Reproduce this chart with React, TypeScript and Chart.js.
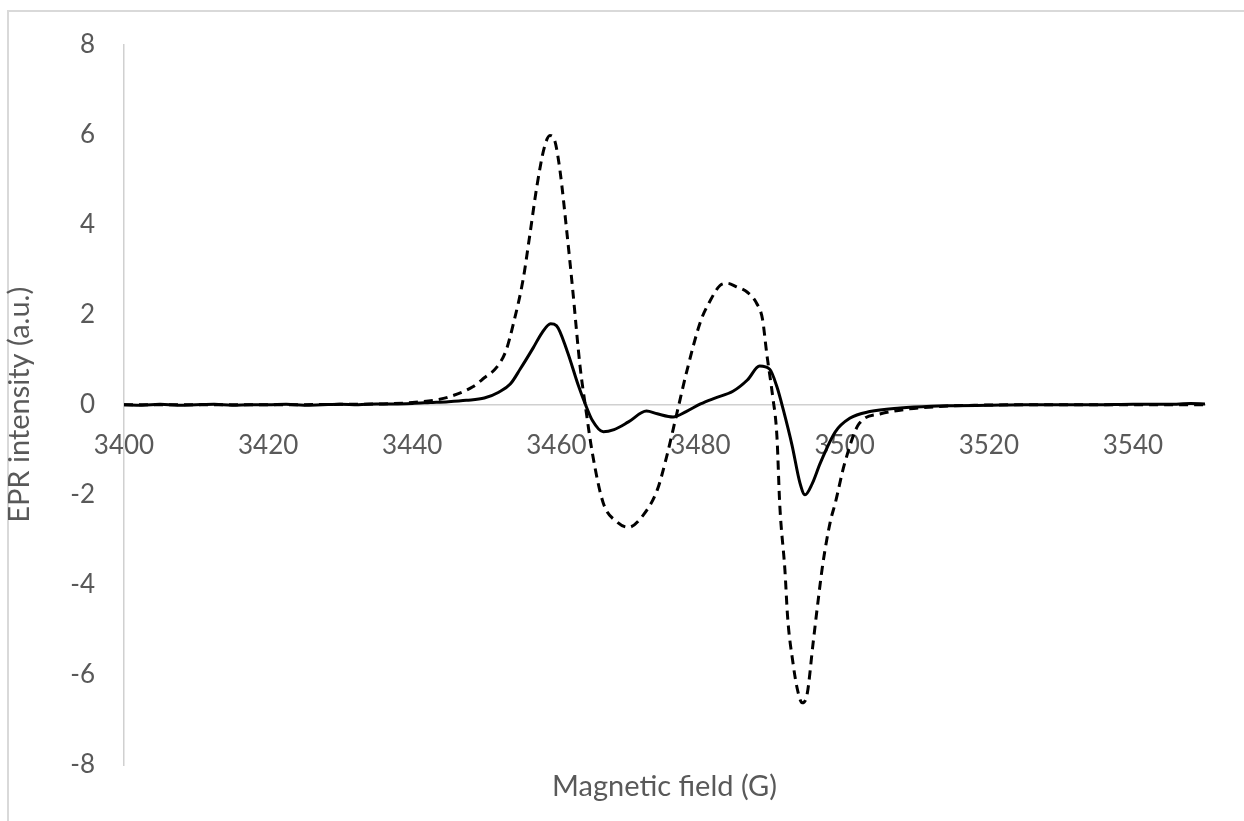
import React, { useEffect, useRef } from "react";
import { Chart, registerables } from "chart.js";

Chart.register(...registerables);

// Magnetic field (G) and EPR intensity (a.u.)
const solidField = [
  3400, 3402.5, 3405, 3407.5, 3410, 3412.5, 3415, 3417.5, 3420, 3422.5, 3425, 3427.5, 3430, 3432.5,
  3435, 3437.5, 3440, 3442.5, 3445, 3447.5, 3450, 3452, 3453.6, 3455, 3456.8, 3458, 3459.2, 3460,
  3461.5, 3463, 3464, 3465, 3466.5, 3468, 3470, 3472.5, 3474, 3476.2, 3478, 3480, 3482, 3484.5,
  3486.5, 3488.2, 3489.6, 3490.6, 3491.5, 3492.7, 3493.8, 3494.5, 3495.5, 3496.6, 3498.7, 3500.7,
  3503.5, 3507.7, 3512, 3515, 3520, 3525, 3530, 3535, 3540, 3545, 3548, 3550,
];
const solidIntensity = [
  0.0, -0.01, 0.01, -0.01, 0.0, 0.01, -0.01, 0.0, 0.0, 0.01, -0.01, 0.0, 0.01, 0.0,
  0.02, 0.02, 0.03, 0.05, 0.07, 0.1, 0.15, 0.28, 0.46, 0.8, 1.27, 1.6, 1.8, 1.76,
  1.19, 0.45, 0.02, -0.35, -0.6, -0.55, -0.38, -0.14, -0.2, -0.27, -0.15, 0.02, 0.15, 0.3,
  0.55, 0.86, 0.79, 0.4, -0.12, -0.9, -1.74, -2.0, -1.75, -1.3, -0.6, -0.3,
  -0.15, -0.07, -0.03, -0.02, -0.01, 0.0, 0.0, 0.0, 0.01, 0.01, 0.03, 0.02,
];

const dashedField = [
  3400, 3410, 3420, 3430, 3436, 3440, 3443, 3445, 3448.4, 3450, 3451.7, 3453, 3454, 3455.4, 3456.3,
  3457.3, 3458.3, 3459.1, 3459.8, 3460.5, 3461.5, 3462.2, 3463.3, 3464, 3465, 3466.5, 3468.4,
  3470, 3472, 3474, 3475.3, 3476.7, 3478.1, 3480, 3481.3, 3482.7, 3483.7, 3485, 3486.5, 3487.8,
  3488.6, 3489.2, 3490, 3490.6, 3491, 3491.7, 3492.1, 3492.8, 3493.4, 3494.1, 3494.8, 3495.6,
  3496.3, 3497, 3498, 3498.7, 3500, 3502, 3505, 3509, 3513, 3518, 3525, 3535, 3550,
];
const dashedIntensity = [
  0.0, 0.0, 0.0, 0.01, 0.02, 0.05, 0.1, 0.17, 0.4, 0.6, 0.83, 1.2, 1.78, 2.8, 3.76,
  4.86, 5.7, 5.98, 5.85, 5.2, 3.76, 2.66, 0.83, 0.0, -1.08, -2.18, -2.6,
  -2.72, -2.46, -1.89, -1.15, -0.2, 0.75, 1.85, 2.3, 2.65, 2.7, 2.62, 2.5, 2.25,
  1.9, 1.12, 0.2, -0.7, -2.24, -3.65, -4.75, -5.7, -6.29, -6.62, -6.42, -5.32,
  -4.37, -3.5, -2.6, -2.18, -1.3, -0.42, -0.2, -0.09, -0.04, -0.01, 0.0, 0.0, 0.0,
];

const xMin = 3400;
const xMax = 3550;
const xStep = 20;
const yMin = -8;
const yMax = 8;
const yStep = 2;

const xTitle = "Magnetic field (G)";
const yTitle = "EPR intensity (a.u.)";

const W = 1244;
const H = 821;

export default function App() {
  const ref = useRef<HTMLCanvasElement | null>(null);

  useEffect(() => {
    if (!ref.current) return;
    const textColor = "#595959";
    const axisColor = "#d0d0d0";
    const tickFont = { family: "Lato", size: 26, weight: "normal" as const };
    const titleFont = { family: "Lato", size: 29, weight: "normal" as const };

    const chart = new Chart(ref.current, {
      type: "line",
      data: {
        datasets: [
          {
            label: "dashed",
            data: dashedField.map((x, i) => ({ x, y: dashedIntensity[i] })),
            borderColor: "#000000",
            borderWidth: 3,
            borderDash: [9, 6],
            pointRadius: 0,
            fill: false,
            cubicInterpolationMode: "monotone",
          },
          {
            label: "solid",
            data: solidField.map((x, i) => ({ x, y: solidIntensity[i] })),
            borderColor: "#000000",
            borderWidth: 3,
            pointRadius: 0,
            fill: false,
            cubicInterpolationMode: "monotone",
          },
        ],
      },
      options: {
        responsive: false,
        animation: false,
        layout: { padding: { left: 0, top: 36, right: 39, bottom: 16.6 } },
        plugins: {
          legend: { display: false },
          tooltip: { enabled: false },
          title: {
            display: true,
            text: xTitle,
            position: "bottom",
            fullSize: false,
            color: textColor,
            font: titleFont,
            padding: { top: 4.6, bottom: 0 },
          },
        },
        scales: {
          x: {
            type: "linear",
            min: xMin,
            max: xMax,
            position: { y: 0 } as any,
            grid: { display: false, drawTicks: false },
            border: { display: true, color: axisColor, width: 1.5 },
            ticks: {
              stepSize: xStep,
              includeBounds: false,
              color: textColor,
              font: tickFont,
              padding: 25,
              maxRotation: 0,
              autoSkip: false,
              callback: (v: any) => String(v),
            },
            afterFit: (s: any) => {
              s.height = 0;
            },
          },
          y: {
            type: "linear",
            min: yMin,
            max: yMax,
            grid: { display: false, drawTicks: false },
            border: { display: true, color: axisColor, width: 1.5 },
            ticks: {
              stepSize: yStep,
              color: textColor,
              font: tickFont,
              padding: 29,
              callback: (v: any) => String(v),
            },
            title: {
              display: true,
              text: yTitle,
              color: textColor,
              font: titleFont,
              padding: { top: 2.6, bottom: 0 },
            },
            afterFit: (s: any) => {
              s.width = 124;
            },
          },
        },
      },
    });
    return () => chart.destroy();
  }, []);

  return (
    <div style={{ position: "fixed", left: 0, top: 0, width: W, height: H, background: "#fff" }}>
      <div
        style={{
          position: "absolute",
          left: 7,
          top: 10,
          right: -10,
          bottom: -10,
          borderLeft: "2px solid #d9d9d9",
          borderTop: "2px solid #d9d9d9",
        }}
      />
      <canvas
        ref={ref}
        width={W}
        height={H}
        style={{ position: "absolute", left: 0, top: 0, width: W, height: H }}
      />
    </div>
  );
}
